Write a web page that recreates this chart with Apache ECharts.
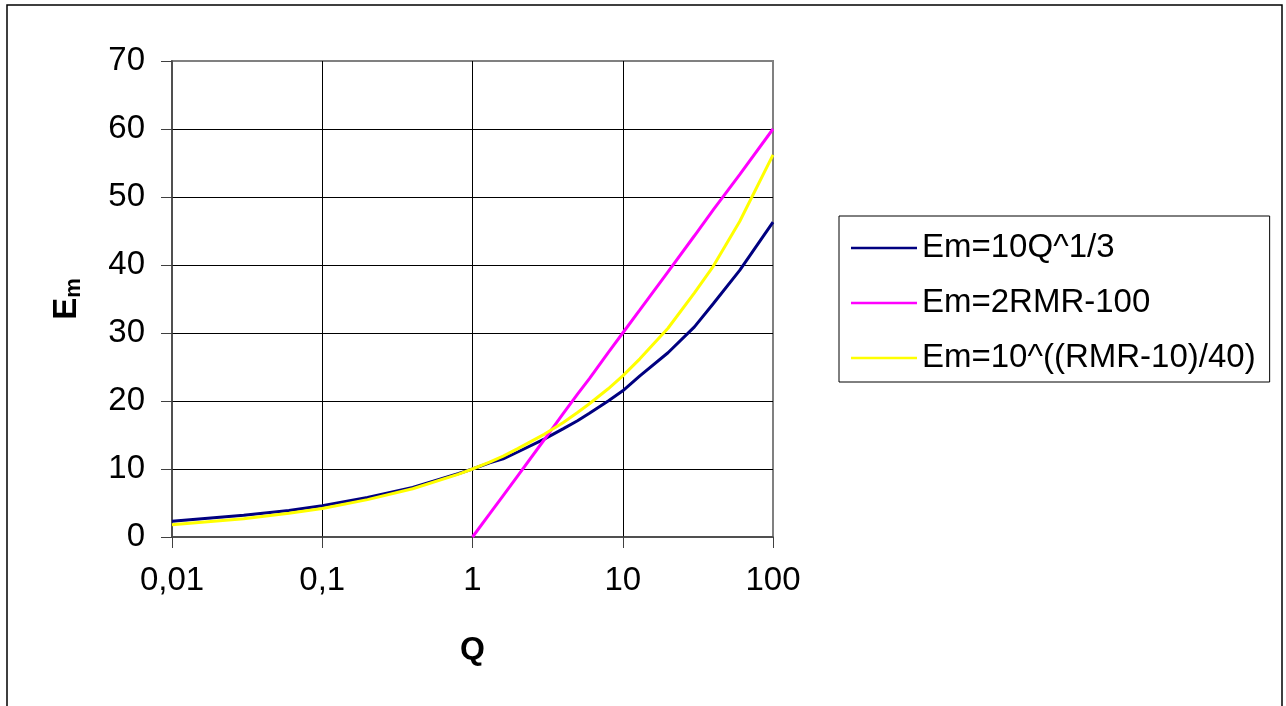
<!DOCTYPE html>
<html>
<head>
<meta charset="utf-8">
<script src="https://cdn.jsdelivr.net/npm/echarts@6/dist/echarts.min.js"></script>
<style>
html,body{margin:0;padding:0;background:#fff;}
#chart{width:1286px;height:706px;}
</style>
</head>
<body>
<div id="chart"></div>
<script>
// Q values (x axis, log scale)
const qValues = [0.01, 0.03, 0.06, 0.1, 0.2, 0.4, 0.8, 1, 1.3, 1.6, 2, 3, 4, 5, 6, 8, 10, 13, 20, 30, 40, 60, 100];
// Em=10Q^1/3
const seriesBlue = [2.3, 3.2, 3.9, 4.6, 5.8, 7.3, 9.3, 10, 10.9, 11.5, 12.5, 14.4, 15.9, 17.1, 18.2, 20.0, 21.5, 23.7, 27.1, 30.9, 34.3, 39.2, 46.3];
// Em=2RMR-100 (only defined from Q=1)
const seriesMagenta = [null, null, null, null, null, null, null, 0, 3.4, 6.1, 9.0, 14.3, 18.1, 21.0, 23.3, 27.1, 30.0, 33.4, 39.0, 44.3, 48.1, 53.3, 60.0];
// Em=10^((RMR-10)/40)
const seriesYellow = [1.8, 2.7, 3.5, 4.2, 5.5, 7.1, 9.2, 10, 11.0, 11.9, 13.0, 15.1, 16.8, 18.3, 19.6, 21.8, 23.7, 26.2, 30.7, 35.9, 39.8, 46.4, 56.2];
const seriesNames = ['Em=10Q^1/3', 'Em=2RMR-100', 'Em=10^((RMR-10)/40)'];
const xTickValues = [0.01, 0.1, 1, 10, 100];
const xTickLabels = ['0,01', '0,1', '1', '10', '100'];
const yTickLabels = ['0', '10', '20', '30', '40', '50', '60', '70'];

function pairs(vals) {
  const out = [];
  for (let i = 0; i < qValues.length; i++) {
    if (vals[i] !== null) out.push([qValues[i], vals[i]]);
  }
  return out;
}

const FONT = '"Liberation Sans", Arial, sans-serif';
const chart = echarts.init(document.getElementById('chart'), null, {renderer: 'canvas'});
chart.setOption({
  animation: false,
  backgroundColor: '#ffffff',
  textStyle: {fontFamily: FONT},
  graphic: [{
    type: 'rect',
    shape: {x: 7, y: 5, width: 1275, height: 760},
    style: {fill: 'none', stroke: '#000', lineWidth: 1.5},
    silent: true,
    z: -1
  }],
  grid: {
    left: 172, top: 61, right: 513, bottom: 169,
    show: true, borderColor: '#808080', borderWidth: 2, backgroundColor: 'transparent'
  },
  legend: {
    orient: 'vertical',
    left: 839, top: 216,
    padding: [14, 14, 6, 12],
    icon: 'rect',
    itemWidth: 66, itemHeight: 2.5,
    itemGap: 19,
    textStyle: {fontSize: 33, fontFamily: FONT, color: '#000', lineHeight: 36},
    borderColor: '#000', borderWidth: 1,
    backgroundColor: '#fff',
    data: seriesNames
  },
  xAxis: {
    type: 'log', logBase: 10, min: 0.01, max: 100,
    name: 'Q', nameLocation: 'middle', nameGap: 97,
    nameTextStyle: {fontSize: 32, fontWeight: 'bold', color: '#000', fontFamily: FONT},
    axisLine: {show: true, lineStyle: {color: '#404040', width: 1.5}},
    axisTick: {show: true, length: 11, lineStyle: {color: '#404040', width: 1}},
    axisLabel: {
      fontSize: 33, color: '#000', margin: 27, fontFamily: FONT,
      formatter: function (v) {
        for (let i = 0; i < xTickValues.length; i++) {
          if (Math.abs(Math.log10(v) - Math.log10(xTickValues[i])) < 1e-6) return xTickLabels[i];
        }
        return '';
      }
    },
    splitLine: {show: true, showMinLine: false, showMaxLine: false, lineStyle: {color: '#000', width: 1}}
  },
  yAxis: {
    type: 'value', min: 0, max: 70, interval: 10,
    name: '{e|E}{m|m}', nameLocation: 'middle', nameGap: 87,
    nameTextStyle: {
      color: '#000', fontFamily: FONT,
      rich: {
        e: {fontSize: 33, fontWeight: 'bold', lineHeight: 36, fontFamily: FONT, color: '#000'},
        m: {fontSize: 22, fontWeight: 'bold', lineHeight: 22, verticalAlign: 'bottom', fontFamily: FONT, color: '#000'}
      }
    },
    axisLine: {show: true, lineStyle: {color: '#404040', width: 1.5}},
    axisTick: {show: true, length: 11, lineStyle: {color: '#404040', width: 1}},
    axisLabel: {
      fontSize: 33, color: '#000', margin: 27, fontFamily: FONT,
      formatter: function (v) { return yTickLabels[Math.round(v / 10)]; }
    },
    splitLine: {show: true, showMinLine: false, showMaxLine: false, lineStyle: {color: '#000', width: 1}}
  },
  series: [
    {name: seriesNames[0], type: 'line', data: pairs(seriesBlue), symbol: 'none', lineStyle: {color: '#000080', width: 3}, itemStyle: {color: '#000080'}},
    {name: seriesNames[1], type: 'line', data: pairs(seriesMagenta), symbol: 'none', lineStyle: {color: '#FF00FF', width: 3}, itemStyle: {color: '#FF00FF'}},
    {name: seriesNames[2], type: 'line', data: pairs(seriesYellow), symbol: 'none', lineStyle: {color: '#FFFF00', width: 3}, itemStyle: {color: '#FFFF00'}}
  ]
});
</script>
</body>
</html>
